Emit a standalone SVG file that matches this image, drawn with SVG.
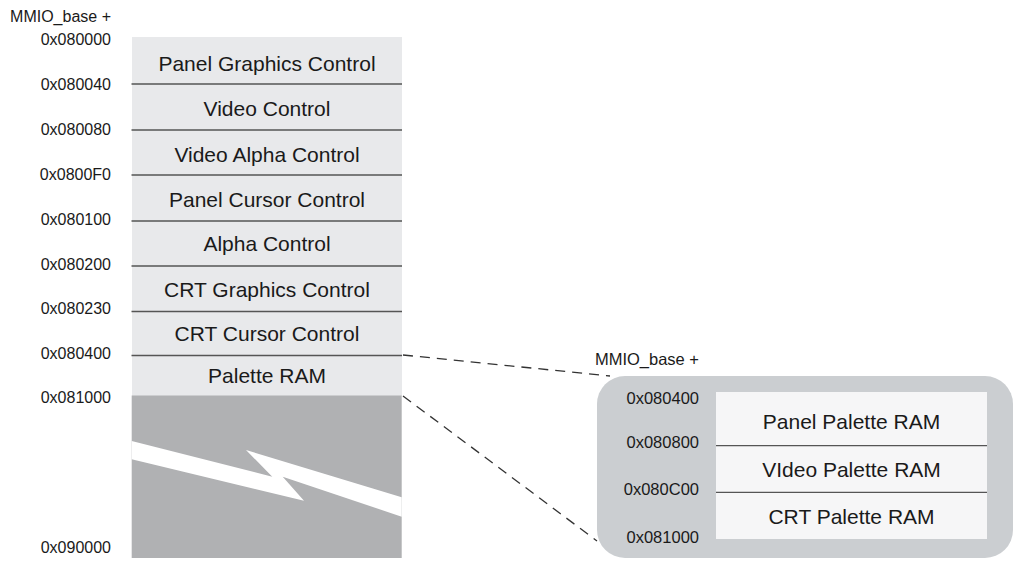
<svg xmlns="http://www.w3.org/2000/svg" width="1015" height="563" viewBox="0 0 1015 563">
<style>
.lbl{font-family:"Liberation Sans",Arial,sans-serif;font-size:16px;fill:#1a1a1a;text-anchor:end}
.rlbl{font-family:"Liberation Sans",Arial,sans-serif;font-size:16.5px;fill:#1a1a1a;text-anchor:end}
.name{font-family:"Liberation Sans",Arial,sans-serif;font-size:21px;fill:#1a1a1a;text-anchor:middle}
.row{fill:#e8e9eb}
.sep{stroke:#555;stroke-width:1.3}
.dash{stroke:#333;stroke-width:1.3;stroke-dasharray:10 7;fill:none}
</style>
<rect width="1015" height="563" fill="#fff"/>
<g id="left-map">
<rect class="row" x="132" y="37" width="270" height="359"/>
<g id="row-panel-graphics"><text class="name" x="267" y="71">Panel Graphics Control</text></g>
<g id="row-video"><text class="name" x="267" y="116">Video Control</text></g>
<g id="row-video-alpha"><text class="name" x="267" y="161.5">Video Alpha Control</text></g>
<g id="row-panel-cursor"><text class="name" x="267" y="207">Panel Cursor Control</text></g>
<g id="row-alpha"><text class="name" x="267" y="251">Alpha Control</text></g>
<g id="row-crt-graphics"><text class="name" x="267" y="296.5">CRT Graphics Control</text></g>
<g id="row-crt-cursor"><text class="name" x="267" y="340.5">CRT Cursor Control</text></g>
<g id="row-palette"><text class="name" x="267" y="383">Palette RAM</text></g>
<line class="sep" x1="131.5" y1="84" x2="402" y2="84"/>
<line class="sep" x1="131.5" y1="130" x2="402" y2="130"/>
<line class="sep" x1="131.5" y1="175" x2="402" y2="175"/>
<line class="sep" x1="131.5" y1="221" x2="402" y2="221"/>
<line class="sep" x1="131.5" y1="266" x2="402" y2="266"/>
<line class="sep" x1="131.5" y1="311.5" x2="402" y2="311.5"/>
<line class="sep" x1="131.5" y1="355.5" x2="402" y2="355.5"/>
<g id="reserved">
<rect x="131.7" y="395.5" width="270" height="162.5" fill="#b0b1b3"/>
<polygon points="131.7,441 272.3,476.7 246,450 401.7,497.3 401.7,516.7 282.7,476.7 304,500.7 131.7,459.3" fill="#fff"/>
</g>
<g id="left-labels">
<text class="lbl" x="111" y="22">MMIO_base +</text>
<text class="lbl" x="111" y="45">0x080000</text>
<text class="lbl" x="111" y="90">0x080040</text>
<text class="lbl" x="111" y="135">0x080080</text>
<text class="lbl" x="111" y="180">0x0800F0</text>
<text class="lbl" x="111" y="225">0x080100</text>
<text class="lbl" x="111" y="269.5">0x080200</text>
<text class="lbl" x="111" y="314">0x080230</text>
<text class="lbl" x="111" y="358.5">0x080400</text>
<text class="lbl" x="111" y="402.5">0x081000</text>
<text class="lbl" x="111" y="553">0x090000</text>
</g>
</g>
<g id="connectors">
<line class="dash" x1="403" y1="355" x2="610" y2="376"/>
<line class="dash" x1="403" y1="396" x2="597" y2="541"/>
</g>
<g id="palette-detail">
<rect x="597" y="376" width="416" height="182" rx="28" fill="#cbced1"/>
<rect x="716" y="392" width="271" height="147" fill="#f6f6f7"/>
<line class="sep" x1="716" y1="445.7" x2="987" y2="445.7"/>
<line class="sep" x1="716" y1="492.3" x2="987" y2="492.3"/>
<g id="panel-palette"><text class="name" x="851.5" y="428.5">Panel Palette RAM</text></g>
<g id="video-palette"><text class="name" x="851.5" y="476.5">VIdeo Palette RAM</text></g>
<g id="crt-palette"><text class="name" x="851.5" y="523.5">CRT Palette RAM</text></g>
<text class="rlbl" x="699" y="365">MMIO_base +</text>
<text class="rlbl" x="699" y="404">0x080400</text>
<text class="rlbl" x="699" y="448">0x080800</text>
<text class="rlbl" x="699" y="495">0x080C00</text>
<text class="rlbl" x="699" y="543">0x081000</text>
</g>
</svg>
